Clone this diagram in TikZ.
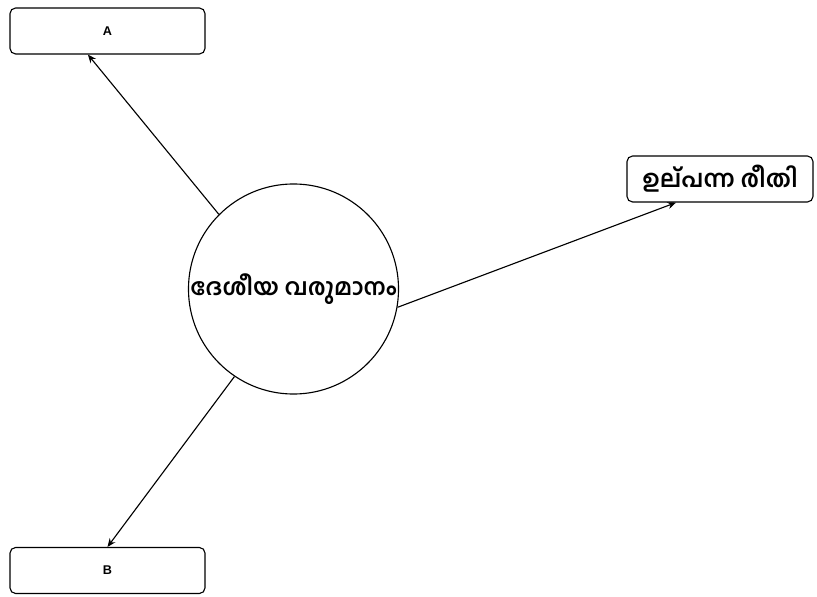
\documentclass[tikz,border=0pt]{standalone}
\usepackage{fontspec}
\setmainfont{Liberation Sans}
\newfontfamily\mlfont[Script=Malayalam]{Hind Kochi}
\usepackage{tikz}
\usepackage{xcolor}
\usetikzlibrary{arrows.meta}

\begin{document}
\begin{tikzpicture}[x=0.025cm, y=-0.025cm, >={Stealth[length=6pt, width=5pt]},
    box/.style={draw, thick, rounded corners=4pt, minimum width=4.875cm, minimum height=1.15cm, inner sep=0pt},
    every node/.style={font=\bfseries}]
  \useasboundingbox (0,0) rectangle (817,597);
  \node[box, font=\small\bfseries] (a) at (107.5,31) {A};
  \node[box, font=\small\bfseries] (b) at (107.5,570.5) {B};
  \node[box, minimum width=4.65cm, font=\mlfont\bfseries\fontsize{17}{20}\selectfont] (method) at (720,179) {ഉല്പന്ന രീതി};
  \node[draw, thick, circle, minimum size=5.25cm, inner sep=0pt, font=\mlfont\bfseries\fontsize{16.5}{20}\selectfont] (income) at (293.5,289) {ദേശീയ വരുമാനം};
  \draw[->, thick] (income.135) -- ([xshift=-0.49cm]a.south);
  \draw[->, thick] (income.-10) -- ([xshift=-1.1cm]method.south);
  \draw[->, thick] (income.236) -- (b.north);
\end{tikzpicture}
\end{document}
